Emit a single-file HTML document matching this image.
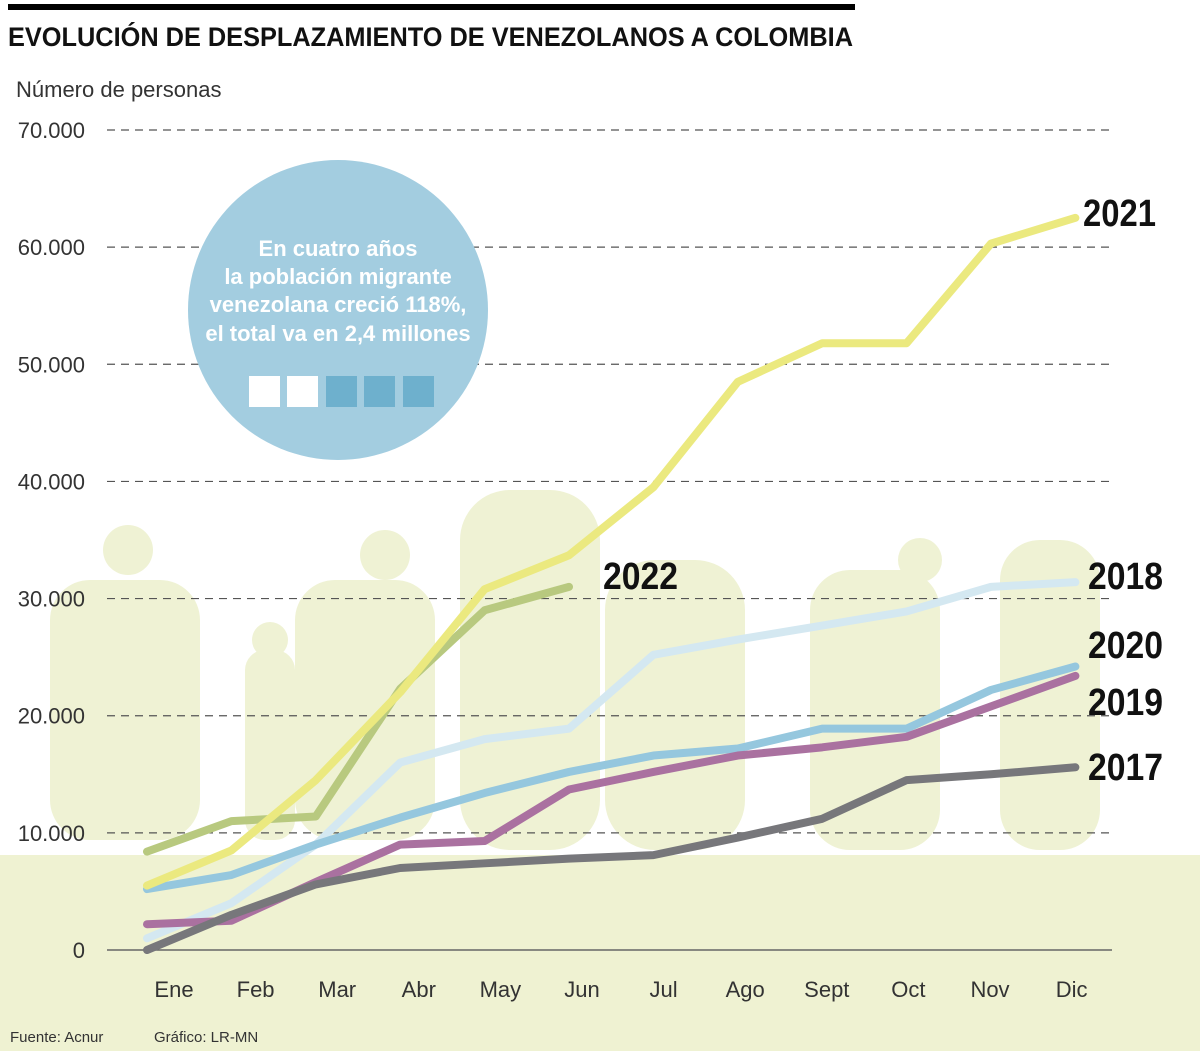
<!DOCTYPE html>
<html><head><meta charset="utf-8"><style>
body{margin:0;background:#fff;}
svg text{font-family:"Liberation Sans",sans-serif;}
</style></head><body>
<svg id="chart" width="1200" height="1051" viewBox="0 0 1200 1051" xmlns="http://www.w3.org/2000/svg">
<rect x="0" y="0" width="1200" height="1051" fill="#fff"/>
<g id="silhouettes" fill="#eff2d4">
  <rect x="50" y="580" width="150" height="260" rx="40"/>
  <circle cx="128" cy="550" r="25"/>
  <rect x="245" y="650" width="50" height="190" rx="20"/>
  <circle cx="270" cy="640" r="18"/>
  <rect x="295" y="580" width="140" height="260" rx="40"/>
  <circle cx="385" cy="555" r="25"/>
  <rect x="460" y="490" width="140" height="360" rx="50"/>
  <rect x="605" y="560" width="140" height="290" rx="50"/>
  <rect x="810" y="570" width="130" height="280" rx="40"/>
  <circle cx="920" cy="560" r="22"/>
  <rect x="1000" y="540" width="100" height="310" rx="40"/>
</g>
<rect x="0" y="855" width="1200" height="196" fill="#eff2d2"/>
<rect x="8" y="4" width="847" height="6" fill="#000"/>
<text x="8" y="46" font-family="Liberation Sans Narrow, Liberation Sans, sans-serif" font-weight="bold" font-size="27" fill="#111" textLength="845" lengthAdjust="spacingAndGlyphs">EVOLUCIÓN DE DESPLAZAMIENTO DE VENEZOLANOS A COLOMBIA</text>
<text x="16" y="97" font-size="22" fill="#333">Número de personas</text>
<g id="grid"></g>
<g id="lines"></g>
<g id="xlabels"></g>
<g>
  <circle cx="338" cy="310" r="150" fill="#a3cde0"/>
  <g font-weight="bold" font-size="22" fill="#fff" text-anchor="middle">
    <text x="338" y="256">En cuatro años</text>
    <text x="338" y="284">la población migrante</text>
    <text x="338" y="312">venezolana creció 118%,</text>
    <text x="338" y="341">el total va en 2,4 millones</text>
  </g>
  <rect x="249" y="376" width="31" height="31" fill="#fff"/>
  <rect x="287" y="376" width="31" height="31" fill="#fff"/>
  <rect x="326" y="376" width="31" height="31" fill="#6eb0cd"/>
  <rect x="364" y="376" width="31" height="31" fill="#6eb0cd"/>
  <rect x="403" y="376" width="31" height="31" fill="#6eb0cd"/>
</g>
<g font-family="Liberation Sans Narrow, Liberation Sans, sans-serif" font-weight="bold" font-size="38" fill="#111" lengthAdjust="spacingAndGlyphs">
  <text x="1083" y="226" textLength="73" lengthAdjust="spacingAndGlyphs">2021</text>
  <text x="603" y="589" textLength="75" lengthAdjust="spacingAndGlyphs">2022</text>
  <text x="1088" y="589" textLength="75" lengthAdjust="spacingAndGlyphs">2018</text>
  <text x="1088" y="658" textLength="75" lengthAdjust="spacingAndGlyphs">2020</text>
  <text x="1088" y="715" textLength="75" lengthAdjust="spacingAndGlyphs">2019</text>
  <text x="1088" y="780" textLength="75" lengthAdjust="spacingAndGlyphs">2017</text>
</g>
<text x="10" y="1042" font-size="15" fill="#333">Fuente: Acnur</text>
<text x="154" y="1042" font-size="15" fill="#333">Gráfico: LR-MN</text>
</svg>
<script>
const months=["Ene","Feb","Mar","Abr","May","Jun","Jul","Ago","Sept","Oct","Nov","Dic"];
const yTicks=[0,10000,20000,30000,40000,50000,60000,70000];
const yTickLabels=["0","10.000","20.000","30.000","40.000","50.000","60.000","70.000"];
const v2018=[1000,4000,9000,16000,18000,18900,25200,26500,27700,28900,31000,31400];
const v2020=[5200,6400,9000,11300,13400,15200,16600,17200,18900,18900,22200,24200];
const v2022=[8400,11000,11400,22300,29000,31000];
const v2021=[5500,8500,14500,22000,30800,33700,39500,48500,51800,51800,60300,62500];
const v2019=[2200,2500,5800,9000,9300,13700,15200,16600,17300,18200,20800,23400];
const v2017=[0,3000,5600,7000,7400,7800,8100,9600,11200,14500,15000,15600];
const NS="http://www.w3.org/2000/svg";
function y(v){return 950-v*(820/70000);}
function x(i){return 147+i*84.4;}
function labelX(i){return 174+i*81.6;}
const grid=document.getElementById('grid');
yTicks.forEach((t,i)=>{
  const l=document.createElementNS(NS,'line');
  
  
  l.setAttribute('x1',107);l.setAttribute('x2',1112);
  l.setAttribute('y1',y(t));l.setAttribute('y2',y(t));
  l.setAttribute('stroke',t===0?'#666':'#555');
  l.setAttribute('stroke-width',t===0?1.5:1.2);
  if(t!==0)l.setAttribute('stroke-dasharray','8,6');
  grid.appendChild(l);
  const tx=document.createElementNS(NS,'text');
  
  
  tx.setAttribute('x',85);tx.setAttribute('y',y(t)+8);
  tx.setAttribute('text-anchor','end');tx.setAttribute('font-size','22');tx.setAttribute('fill','#333');
  tx.textContent=yTickLabels[i];grid.appendChild(tx);
});
const xl=document.getElementById('xlabels');
months.forEach((m,i)=>{
  const tx=document.createElementNS(NS,'text');
  
  
  tx.setAttribute('x',labelX(i));tx.setAttribute('y',997);
  tx.setAttribute('text-anchor','middle');tx.setAttribute('font-size','22');tx.setAttribute('fill','#333');
  tx.textContent=m;xl.appendChild(tx);
});
const g=document.getElementById('lines');
function draw(vals,color,name){
  const p=document.createElementNS(NS,'polyline');
  
  
  p.setAttribute('points',vals.map((v,i)=>x(i)+','+y(v)).join(' '));
  p.setAttribute('fill','none');p.setAttribute('stroke',color);
  p.setAttribute('stroke-width','8');p.setAttribute('stroke-linecap','round');p.setAttribute('stroke-linejoin','round');
  g.appendChild(p);
}
draw(v2018,'#d4e8f1','line-2018');
draw(v2020,'#95c7de','line-2020');
draw(v2022,'#b8c97f','line-2022');
draw(v2021,'#ebe97f','line-2021');
draw(v2019,'#aa71a0','line-2019');
draw(v2017,'#77777b','line-2017');
</script>
</body></html>
